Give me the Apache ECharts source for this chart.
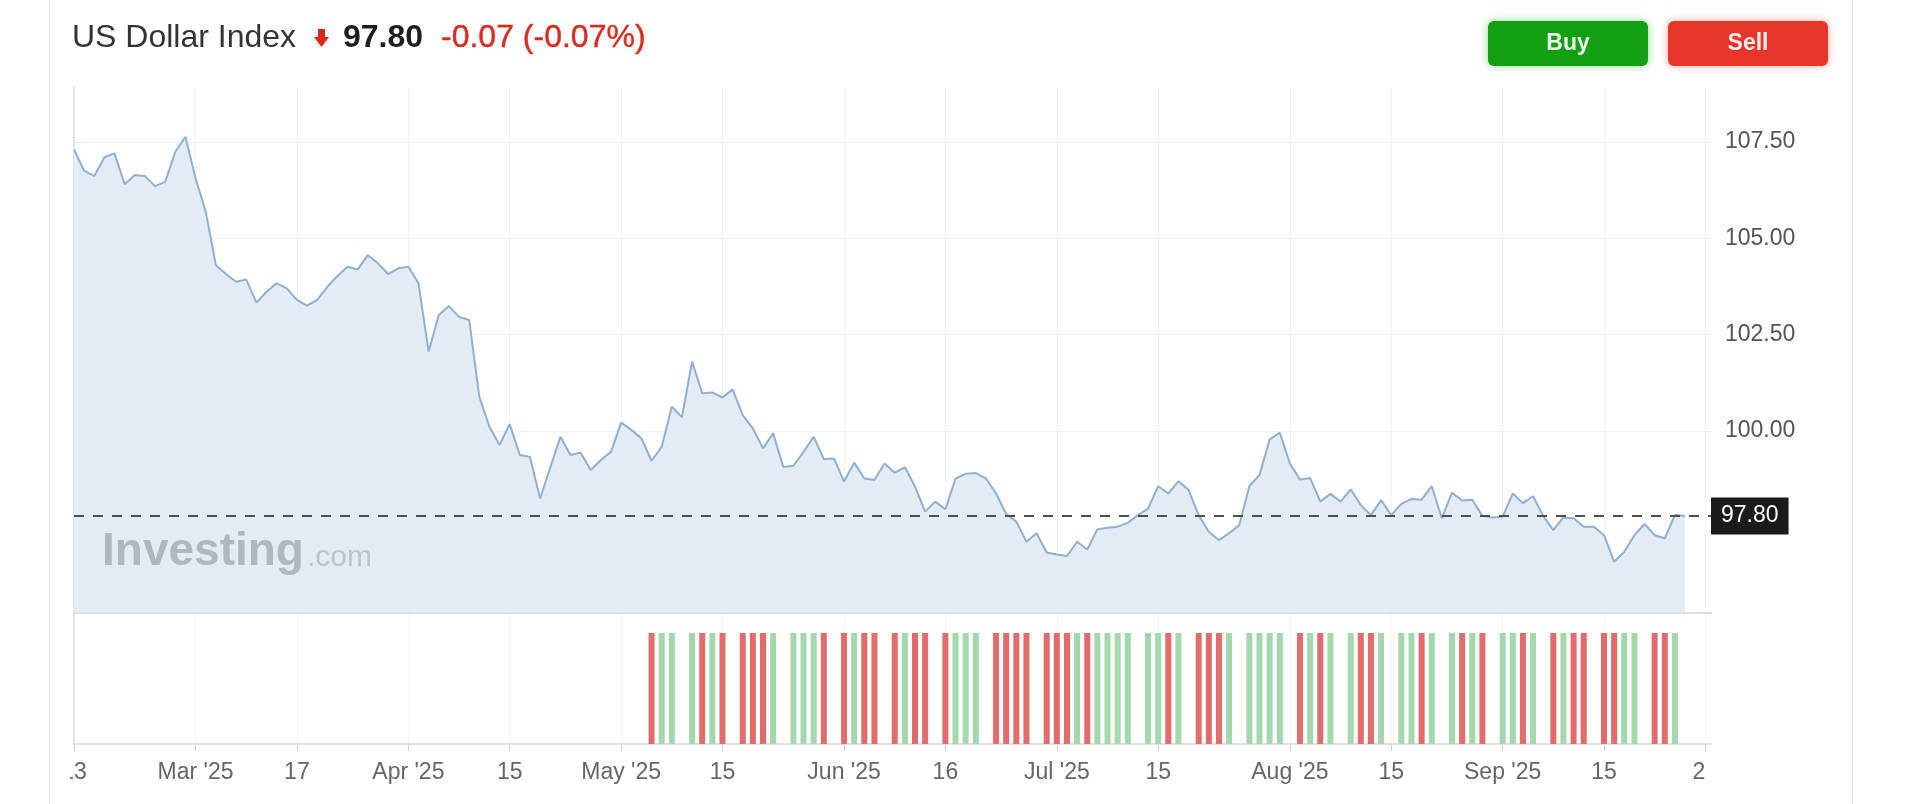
<!DOCTYPE html>
<html>
<head>
<meta charset="utf-8">
<script src="https://cdn.jsdelivr.net/npm/echarts@6.0.0/dist/echarts.min.js"></script>
<style>
  html, body { margin: 0; padding: 0; background: #ffffff; }
  #chart { width: 1920px; height: 804px; }
</style>
</head>
<body>
<div id="chart"></div>
<script>
// Daily closes, one per trading day from Feb 13 2025 (index 0) to Sep 25 2025 (index 159)
const closeValues = [
  107.30,106.75,106.61,107.10,107.20,106.40,106.64,106.61,106.35,106.46,
  107.24,107.63,106.55,105.69,104.30,104.07,103.87,103.93,103.33,103.61,
  103.83,103.70,103.40,103.25,103.40,103.74,104.02,104.26,104.19,104.56,
  104.35,104.07,104.22,104.26,103.83,102.06,103.01,103.24,102.96,102.88,
  100.89,100.11,99.64,100.18,99.38,99.33,98.25,99.05,99.85,99.38,
  99.44,98.99,99.25,99.46,100.22,100.03,99.81,99.23,99.59,100.63,
  100.36,101.80,100.98,101.00,100.87,101.08,100.41,100.07,99.55,99.94,
  99.07,99.10,99.46,99.85,99.27,99.29,98.69,99.18,98.77,98.73,
  99.16,98.92,99.06,98.56,97.91,98.17,97.97,98.77,98.89,98.91,
  98.77,98.38,97.85,97.65,97.13,97.35,96.85,96.80,96.76,97.13,
  96.93,97.45,97.49,97.52,97.62,97.82,97.99,98.57,98.38,98.70,
  98.47,97.82,97.39,97.17,97.35,97.56,98.57,98.86,99.78,99.96,
  99.16,98.74,98.78,98.17,98.37,98.17,98.49,98.08,97.82,98.21,
  97.82,98.11,98.24,98.22,98.57,97.74,98.40,98.20,98.22,97.80,
  97.76,97.78,98.38,98.13,98.31,97.80,97.43,97.76,97.74,97.52,
  97.52,97.30,96.61,96.87,97.30,97.59,97.30,97.22,97.82,97.80
];

// Volume bars (all drawn at equal height in the reference); null = no bar that day
const volumeValues = [
  null,null,null,null,null,null,null,null,null,null,
  null,null,null,null,null,null,null,null,null,null,
  null,null,null,null,null,null,null,null,null,null,
  null,null,null,null,null,null,null,null,null,null,
  null,null,null,null,null,null,null,null,null,null,
  null,null,null,null,null,null,null,1,1,1,
  null,1,1,1,1,null,1,1,1,1,
  null,1,1,1,1,null,1,1,1,1,
  null,1,1,1,1,null,1,1,1,1,
  null,1,1,1,1,null,1,1,1,1,
  1,1,1,1,1,null,1,1,1,1,
  null,1,1,1,1,null,1,1,1,1,
  null,1,1,1,1,null,1,1,1,1,
  null,1,1,1,1,null,1,1,1,1,
  null,1,1,1,1,null,1,1,1,1,
  null,1,1,1,1,null,1,1,1,null
];

// X tick positions (trading-day index) and their labels
const tickPositions = [0, 12, 22, 33, 43, 54, 64, 76, 86, 97, 107, 120, 130, 141, 151, 161];
const tickLabels = ["13", "Mar '25", "17", "Apr '25", "15", "May '25", "15", "Jun '25", "16",
                    "Jul '25", "15", "Aug '25", "15", "Sep '25", "15", "29"];

// Y tick values
const yTicks = [100, 102.5, 105, 107.5];

const lastValue = 97.80;
const changeText = "-0.07 (-0.07%)";

const GREEN = '#a3d7ae';
const RED = '#e26b6b';

const chart = echarts.init(document.getElementById('chart'), null, { renderer: 'canvas' });

const X_MIN = 0, X_MAX = 161.56;
const fmtX = v => { const k = tickPositions.indexOf(Math.round(v)); return k >= 0 ? tickLabels[k] : ''; };

const option = {
  animation: false,
  backgroundColor: '#ffffff',
  textStyle: { fontFamily: 'Arial' },
  grid: [
    { left: 74, right: 209, top: 87, height: 525.5 },
    { left: 74, right: 209, top: 613, height: 131 }
  ],
  xAxis: [
    {
      type: 'value', gridIndex: 0, min: X_MIN, max: X_MAX,
      axisLine: { show: true, lineStyle: { color: '#cdd1d6', width: 1.5 } },
      axisTick: { show: false, customValues: tickPositions },
      axisLabel: { show: false, customValues: tickPositions },
      splitLine: { show: true, customValues: tickPositions, lineStyle: { color: '#f1f2f3', width: 1 } }
    },
    {
      type: 'value', gridIndex: 1, min: X_MIN, max: X_MAX,
      axisLine: { show: true, lineStyle: { color: '#d8d8d8', width: 1.5 } },
      axisTick: { show: true, length: 7, customValues: tickPositions, lineStyle: { color: '#d0d0d0' } },
      axisLabel: {
        show: true, customValues: tickPositions, formatter: fmtX,
        fontSize: 23, color: '#666666', margin: 17, fontFamily: 'Arial'
      },
      splitLine: { show: true, customValues: tickPositions, lineStyle: { color: '#f4f4f4', width: 1 } }
    }
  ],
  yAxis: [
    {
      type: 'value', gridIndex: 0, position: 'right', min: 95.295, max: 108.92,
      axisLine: { show: true, lineStyle: { color: '#dedede', width: 1.5 } },
      axisTick: { show: true, length: 7, customValues: yTicks, lineStyle: { color: '#e6e6e6' } },
      axisLabel: {
        show: true, customValues: yTicks, formatter: v => v.toFixed(2),
        fontSize: 23, color: '#555555', margin: 14, fontFamily: 'Arial'
      },
      splitLine: { show: true, customValues: yTicks, lineStyle: { color: '#efefef', width: 1 } }
    },
    {
      type: 'value', gridIndex: 1, position: 'right', min: 0, max: 1.18,
      axisLine: { show: true, lineStyle: { color: '#dedede', width: 1.5 } },
      axisTick: { show: false }, axisLabel: { show: false }, splitLine: { show: false }
    }
  ],
  series: [
    {
      type: 'line', xAxisIndex: 0, yAxisIndex: 0,
      data: closeValues.map((v, i) => [i, v]),
      showSymbol: false, symbol: 'none',
      lineStyle: { color: '#8fb0d3', width: 2 },
      areaStyle: { color: '#e3ebf5', opacity: 1, origin: 'start' },
      z: 2,
      markLine: {
        silent: true, symbol: ['none', 'none'],
        data: [{ yAxis: lastValue }],
        lineStyle: { type: [10, 9], color: '#4f4f4f', width: 2 },
        label: {
          show: true, position: 'end', distance: 0,
          formatter: () => lastValue.toFixed(2),
          backgroundColor: '#1b1b1b', color: '#ffffff',
          fontSize: 23, lineHeight: 23, padding: [7, 10, 7, 10], fontFamily: 'Arial'
        }
      }
    },
    {
      type: 'bar', xAxisIndex: 1, yAxisIndex: 1,
      data: volumeValues.map((v, i) => [i, v]).filter(d => d[1] !== null),
      barWidth: 6,
      itemStyle: {
        color: p => {
          const i = p.data[0];
          return closeValues[i] >= closeValues[i - 1] ? GREEN : RED;
        }
      }
    }
  ],
  graphic: [
    { type: 'line', z: 1, shape: { x1: 49.5, y1: 0, x2: 49.5, y2: 804 }, style: { stroke: '#e6e6e6', lineWidth: 1.5 } },
    { type: 'line', z: 1, shape: { x1: 1852.5, y1: 0, x2: 1852.5, y2: 804 }, style: { stroke: '#e6e6e6', lineWidth: 1.5 } },
    // Title
    { type: 'text', x: 72, y: 38, z: 20, style: { text: 'US Dollar Index', font: '32px Arial', fill: '#333333', verticalAlign: 'middle' } },
    { type: 'polygon', z: 20, shape: { points: [[318, 29], [325, 29], [325, 37], [329, 37], [321.5, 47], [314, 37], [318, 37]] }, style: { fill: '#e0261b' } },
    { type: 'text', x: 343, y: 38, z: 20, style: { text: lastValue.toFixed(2), font: 'bold 32px Arial', fill: '#1f1f1f', verticalAlign: 'middle' } },
    { type: 'text', x: 441, y: 38, z: 20, style: { text: changeText, font: '500 32px Arial', fill: '#dc2a1e', stroke: '#dc2a1e', lineWidth: 0.4, verticalAlign: 'middle' } },
    // Buttons
    { type: 'rect', z: 20, shape: { x: 1488, y: 21, width: 160, height: 45, r: 6 }, style: { fill: '#12a012', shadowBlur: 8, shadowColor: 'rgba(18,160,18,0.45)' } },
    { type: 'text', x: 1568, y: 43.5, z: 21, style: { text: 'Buy', font: 'bold 23px Arial', fill: '#eef8ee', align: 'center', verticalAlign: 'middle' } },
    { type: 'rect', z: 20, shape: { x: 1668, y: 21, width: 160, height: 45, r: 6 }, style: { fill: '#e8352a', shadowBlur: 8, shadowColor: 'rgba(232,53,42,0.45)' } },
    { type: 'text', x: 1748, y: 43.5, z: 21, style: { text: 'Sell', font: 'bold 23px Arial', fill: '#fbeeee', align: 'center', verticalAlign: 'middle' } },
    // Watermark
    { type: 'text', x: 102, y: 552, z: 5, style: { text: 'Investing', font: 'bold 46px Arial', fill: '#afb7c1', verticalAlign: 'middle' } },
    { type: 'text', x: 307, y: 557.5, z: 5, style: { text: '.com', font: '30px Arial', fill: '#bcc3cc', verticalAlign: 'middle' } },
    // clip edge labels like the reference
    { type: 'rect', z: 30, shape: { x: 51, y: 756, width: 19, height: 38 }, style: { fill: '#ffffff' } },
    { type: 'rect', z: 30, shape: { x: 1705, y: 756, width: 47, height: 38 }, style: { fill: '#ffffff' } }
  ]
};

chart.setOption(option);
</script>
</body>
</html>
